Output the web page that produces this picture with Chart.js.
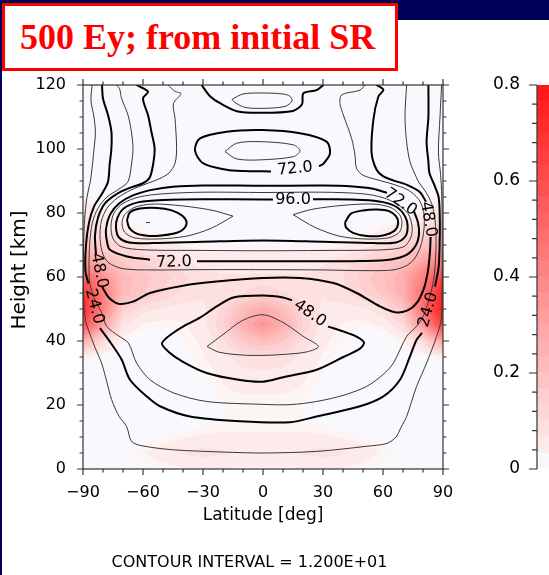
<!DOCTYPE html>
<html>
<head>
<meta charset="utf-8">
<script src="https://cdn.jsdelivr.net/npm/chart.js@4.4.0/dist/chart.umd.min.js"></script>
<style>
html, body { margin: 0; padding: 0; }
body { width: 549px; height: 575px; overflow: hidden; position: relative; background: #fff; font-family: "DejaVu Sans", sans-serif; }
#navyTop { position: absolute; left: 0; top: 0; width: 549px; height: 20px; background: #000058; }
#navyLeft { position: absolute; left: 0; top: 0; width: 2px; height: 575px; background: #000058; }
#main { position: absolute; left: 0; top: 0; }
#cbar { position: absolute; left: 470px; top: 0; }
#title { position: absolute; left: 2px; top: 3px; width: 396px; height: 68px; box-sizing: border-box; border: 3px solid #f00; background: #fff;
  color: #f00; font: bold 36px "Liberation Serif", serif; line-height: 62px; padding-left: 15px; white-space: nowrap; }
#ci { position: absolute; left: 0; top: 552px; width: 499px; text-align: center; font-size: 16px; line-height: 20px; color: #000; }
</style>
</head>
<body>
<div id="navyTop"></div>
<div id="navyLeft"></div>
<canvas id="main" width="549" height="575"></canvas>
<canvas id="cbar" width="100" height="575"></canvas>
<div id="title">500 Ey; from initial SR</div>
<div id="ci">CONTOUR INTERVAL = 1.200E+01</div>
<script>
// ---- shaded field (0 - 0.8), rows from 120 km down to 0 km ----
var heatLat = [-90,-80,-70,-60,-50,-40,-30,-20,-10,0,10,20,30,40,50,60,70,80,90];
var heatHeight = [120,115,110,105,100,95,90,85,80,75,70,65,60,55,50,45,40,35,30,25,20,15,10,5,0];
var heatValues = [
  [0,0,0,0,0,0,0,0,0,0,0,0,0,0,0,0,0,0,0],
  [0,0,0,0,0,0,0,0,0,0,0,0,0,0,0,0,0,0,0],
  [0,0,0,0,0,0,0,0,0,0,0,0,0,0,0,0,0,0,0],
  [0,0,0,0,0,0,0,0,0,0,0,0,0,0,0,0,0,0,0],
  [0,0,0,0,0,0,0,0,0,0,0,0,0,0,0,0,0,0,0],
  [0,0,0,0,0,0,0,0,0,0,0,0,0,0,0,0,0,0,0],
  [0,0,0,0,0,0,0,0,0,0,0,0,0,0,0,0,0,0,0],
  [0.03,0.01,0,0,0,0,0,0,0,0,0,0,0,0,0,0,0,0.01,0.03],
  [0.06,0.03,0.01,0,0,0,0,0,0,0,0,0,0,0,0,0,0.01,0.04,0.08],
  [0.12,0.07,0.04,0.02,0.01,0,0,0,0,0,0,0,0,0,0.01,0.03,0.06,0.1,0.16],
  [0.2,0.13,0.09,0.07,0.05,0.03,0.02,0.02,0.02,0.02,0.02,0.02,0.02,0.03,0.05,0.08,0.12,0.18,0.26],
  [0.36,0.23,0.16,0.13,0.1,0.07,0.05,0.05,0.05,0.05,0.05,0.05,0.06,0.08,0.12,0.16,0.2,0.3,0.42],
  [0.55,0.36,0.22,0.18,0.15,0.11,0.08,0.07,0.07,0.07,0.07,0.07,0.08,0.1,0.15,0.2,0.26,0.42,0.62],
  [0.68,0.43,0.22,0.17,0.13,0.09,0.07,0.07,0.1,0.13,0.1,0.07,0.07,0.09,0.13,0.18,0.26,0.48,0.74],
  [0.72,0.42,0.14,0.08,0.06,0.05,0.06,0.11,0.21,0.27,0.21,0.11,0.06,0.05,0.06,0.09,0.18,0.48,0.78],
  [0.6,0.3,0.07,0.03,0.02,0.03,0.05,0.13,0.26,0.35,0.26,0.13,0.05,0.03,0.02,0.04,0.1,0.34,0.66],
  [0.26,0.1,0.02,0,0,0.02,0.04,0.09,0.17,0.21,0.17,0.09,0.04,0.02,0,0,0.03,0.1,0.3],
  [0.03,0.01,0,0,0,0.01,0.03,0.06,0.08,0.09,0.08,0.06,0.03,0.01,0,0,0,0.01,0.03],
  [0,0,0,0,0,0.01,0.02,0.04,0.06,0.06,0.06,0.04,0.02,0.01,0,0,0,0,0],
  [0,0,0,0,0,0,0.01,0.03,0.04,0.04,0.04,0.03,0.01,0,0,0,0,0,0],
  [0,0,0,0,0,0,0,0.02,0.02,0.02,0.02,0.02,0,0,0,0,0,0,0],
  [0,0,0,0,0,0,0.01,0.02,0.02,0.02,0.02,0.02,0.01,0,0,0,0,0,0],
  [0,0,0,0.01,0.02,0.03,0.04,0.04,0.04,0.04,0.04,0.04,0.04,0.03,0.02,0.01,0,0,0],
  [0,0,0.01,0.03,0.05,0.07,0.08,0.07,0.06,0.06,0.06,0.07,0.08,0.07,0.05,0.03,0.01,0,0],
  [0,0,0,0.01,0.02,0.03,0.03,0.03,0.03,0.03,0.03,0.03,0.03,0.03,0.02,0.01,0,0,0]
];

// colour bar levels
var cbarEdges = [0,0.033,0.067,0.1,0.133,0.167,0.2,0.233,0.267,0.3,0.333,0.367,0.4,0.433,0.467,0.5,0.533,0.567,0.6,0.633,0.667,0.7,0.733,0.767,0.8];

// ticks
var xMajorTicks = [-90,-60,-30,0,30,60,90];
var xMinorTicks = [-80,-70,-50,-40,-20,-10,10,20,40,50,70,80];
var yMajorTicks = [0,20,40,60,80,100,120];
var yMinorTicks = [5,10,15,25,30,35,45,50,55,65,70,75,85,90,95,105,110,115];
var cbarMajorTicks = [0,0.2,0.4,0.6,0.8];
var cbarMinorTicks = [0.04,0.08,0.12,0.16,0.24,0.28,0.32,0.36,0.44,0.48,0.52,0.56,0.64,0.68,0.72,0.76];

// ---- contour lines, [latitude, height]; null = gap for a label ----
var c12 = [[-85.5,120],[-86,115],[-84.5,110],[-83.8,105],[-84.5,100],[-85.3,95],[-86.3,90],[-88,85],[-89.2,78],[-89.7,70],[-89.8,60],[-89.6,52],[-88.6,46],[-87.3,43.5],[-84,38],[-80.7,33.1],[-78,27],[-75.7,21.7],[-72,16.5],[-68.2,13.3],[-65.7,8.6],[-60,7.2],[-44.8,6],[-20,5.3],[0,5],[26.8,5.5],[51.8,7.1],[62,8],[66.5,10],[69,13],[71.8,16.4],[76.8,25.8],[81.8,33.1],[86.8,41.4],[89.2,47],[89.5,55],[89.6,65],[89.6,75],[89.4,85],[88.8,92],[87.7,99],[88.5,110],[89.3,120]];
var c24 = [[-80.5,120],[-80,115.8],[-77.5,110.6],[-75.8,105.4],[-75.8,100.2],[-76.7,95],[-77.5,89.8],[-80.5,86],[-84.5,82],[-87,77],[-88.5,70],[-88.8,62],[-87.3,58],null,[-81.5,44],[-76,39.3],[-70.7,34.2],[-66.5,27.9],[-58.2,22.7],[-51.5,19.6],[-36.5,16.4],[-11.5,14.9],[13.5,14.6],[26.8,16.4],[48.5,19.6],[60.2,22.7],[68.5,27.9],[73.5,35.2],[76.8,40.4],[79.5,42.5],null,[86,57],[87.8,63],[88.3,70],[88.4,78],[87.8,85],[85.5,89],[83.2,92.5],[82.7,96],[81.8,102.3],[82.7,110],[82.7,120]];
var c36 = [[-73.3,120],[-71.7,118.8],[-70.8,116],[-67.5,110.6],[-65.8,105.4],[-65,100.2],[-65.8,95],[-67.5,89.8],[-72,87.5],[-78,85],[-82.5,81.5],[-85.3,77],[-86.6,71],[-87,64],[-86.6,58],[-84.5,53.5],[-80.8,49],[-78.2,44.6],[-72,41.5],[-67.3,39.4],[-63.2,33.1],[-56.5,27.9],[-44.8,23.8],[-28.2,21.1],[0,20.2],[13.5,20.1],[26.8,21.1],[40,23],[51.8,25.8],[60,29.5],[65.2,33.1],[71.8,41.4],[76.8,44.6],[80.3,48],[83,53],[85.3,59],[86.3,66],[86.5,73],[85.8,79],[84.3,83],[81.5,86.5],[78,89.5],[76.8,91],[73.5,96],[71.8,102.3],[71,110],[71.8,120]];
var c48 = [[-63.3,120],[-57.5,117.9],[-60,115.8],[-57.5,110.6],[-55.8,105.4],[-54.2,100.2],[-55,95],[-56.7,91],[-60,89.3],[-66,88],[-73,86],[-79,83],[-82.5,78.5],[-84,73],[-83.5,67],null,[-80.5,57],[-77,53.5],[-72,51.6],[-65,52.3],[-56.5,55],[-40,57.3],[-23.2,58.6],[0,59.7],[18.5,59.7],[35.2,58.1],[46.8,55],[58.5,50.8],[66,49],[72,49.5],[77,52],[80.5,56.5],[82.5,62],[83.5,68],[83.8,72.5],null,[81.5,83.5],[78.5,86.5],[72,88.8],[65,90.2],[60,91.5],[56.8,93.5],[54.3,98.8],[55.2,109.2],[57.7,116.4],[60.2,118.5],[56.8,120]];
var c60 = [[-47.5,120],[-44,118],[-41,117.3],[-44.8,114.2],[-44,109.6],[-43.2,100.2],[-44,95.5],[-47,92.5],[-51.5,90.8],[-58,89.2],[-66,87.2],[-73,84.6],[-78,81.5],[-80.8,77.5],[-81.5,73],[-80.5,68],[-77.5,64.6],[-70,62.6],[-55,62.2],[-30,62.3],[0,62.3],[30,62.2],[50,62],[66,62.3],[74,64.5],[78.5,69],[80.5,75],[80.3,80.5],[77.8,84.3],[72.5,87.2],[65,89],[57,90.4],[50,91.8],[46.8,93.9],[46,98.1],[44.3,103.3],[40.2,110.6],[38.5,114.2],[39.3,116.9],[48.5,118.4],[51,120]];
var c72 = [[62,86.3],[55,87.6],[45,88.3],[30,88.6],[0,88.5],[-30,88.6],[-45,88.2],[-55,87.3],[-65,85.5],[-72,83],[-76.5,79.5],[-78.5,75],[-78,71],[-76.5,68.5],[-68,66.4],[-56.5,65.4],null,[-33,64.9],[0,64.9],[30,64.9],[50,65],[64,65.5],[72,67],[76.5,70],[78,73.5],[77.5,77],[75.5,80.5]];
var c84 = [[0,86.4],[-30,86.5],[-50,86],[-62,85],[-70,83],[-74.5,80],[-76,76],[-75,72],[-71,69.5],[-60,68.5],[-30,68.3],[0,68.2],[30,68.3],[60,68.5],[70.5,69.5],[74,72.5],[74.5,76],[72.5,79.8],[67,82.8],[60,84.8],[50,86],[30,86.5],[0,86.4]];
var c96 = [[5,84.2],[0,84.2],[-30,84.3],[-50,84.1],[-62,83.4],[-69.5,81.5],[-72.8,78.5],[-73.5,75.5],[-72.2,72.5],[-67,70.8],[-55,70.6],[-30,71],[0,71.4],[30,71],[55,70.6],[66.5,70.8],[71.3,72.8],[72.3,76],[71,79],[67,81.8],[60,83.4],[50,84.1],[30,84.3],[25,84.3]];
var loopWest = [[-15,79],[-25,80.8],[-40,82.2],[-55,82.8],[-64,81.8],[-69,79.6],[-70.5,77],[-69.2,74],[-64,72.2],[-52,71.9],[-38,72.8],[-26,75.2],[-15,79]];
var loopEast = [[15,79.5],[25,81.2],[40,82.4],[55,82.8],[63.5,81.8],[68.2,79.6],[69.5,77],[68.2,74],[62.5,72.2],[50,71.9],[38,72.8],[26,75.5],[15,79.5]];
var ovalWest = [[-68,77.8],[-66.5,80.2],[-61.5,81.4],[-53,81.6],[-46,80.9],[-40.5,79.2],[-38.2,76.9],[-40.5,74.6],[-45,73.5],[-52,72.9],[-58,72.9],[-64,73.8],[-67,75.5],[-68,77.8]];
var ovalEast = [[41,77],[44,79.8],[50,80.8],[57,81.1],[63,80.6],[66.5,79],[67.6,76.8],[65.8,74.5],[60,73],[52,72.8],[45,73.8],[41.5,75.5],[41,77]];
var dotWest = [[-58.5,77],[-56.5,77]];
var mound48 = [[32.5,44.5],[40,43],[47,41.3],[50.5,39.5],[48.5,37.6],[40.2,35],[26.8,31],[10.2,28.7],[0,27.3],[-11.5,27.8],[-28.2,30],[-40,33.5],[-47,36.5],[-50.5,39.3],[-45,42.5],[-39.8,44.6],[-31.5,47.3],[-23.2,50.8],[-14.8,53.6],[0,54.2],[10,53.6],[14.5,52.7]];
var mound60 = [[-28,38.3],[-20,42],[-10,46.5],[0,48.2],[10,45.8],[20,41.5],[27.7,38.3],[22,36.6],[10,35.8],[0,35.5],[-10,35.6],[-22,36.5],[-28,38.3]];
var oval72 = [[4,93],[-10,93.1],[-18.2,93.5],[-29.8,95.5],[-34,99.5],[-31.5,103.3],[-18.2,105.4],[0,105.9],[18.5,104.9],[31.8,102.3],[33.5,98.6],[30.5,95.6],[28,94.6]];
var oval84 = [[-19,99.2],[-13.2,101.8],[-1.5,102.3],[15.2,101.3],[18.5,99.4],[15.2,97.6],[-1.5,96.6],[-13.2,96.9],[-19,99.2]];
var arch72 = [[-30.7,120],[-26.5,116.5],[-21.5,114.3],[-13,111.8],[-1.5,111.3],[15,111.9],[19.5,114],[20.2,117.4],[26.8,118.4],[30.2,120]];
var topOval84 = [[-15.5,115.5],[-10,117.2],[0,117.5],[10,117.2],[13.5,116.5],[14.5,115],[11,113.3],[0,112.7],[-9,113],[-14,114.5],[-15.5,115.5]];

// contour labels: text, latitude, height, angle
var contourLabels = [
  ['72.0', 16, 93.8, -6],
  ['96.0', 15, 84.2, 0],
  ['72.0', 68.8, 83.4, 35],
  ['48.0', 82.6, 78, 80],
  ['72.0', -44.5, 64.6, -2],
  ['48.0', -82, 62, 79],
  ['24.0', -84.3, 50.8, 75],
  ['24.0', 82.7, 49.8, -74],
  ['48.0', 23.5, 48.6, 35]
];

var THICK = 2, THIN = 1;
var contourLines = [
  [c12, THIN], [c24, THICK], [c36, THIN], [c48, THICK], [c60, THIN],
  [c72, THICK], [c84, THIN], [c96, THICK], [loopWest, THIN], [loopEast, THIN],
  [ovalWest, THICK], [ovalEast, THICK], [dotWest, THIN], [mound48, THICK], [mound60, THIN],
  [oval72, THICK], [oval84, THIN], [arch72, THICK], [topOval84, THIN]
];

// colour for a value of the field
function heatColor(v) {
  if (v < 0.02) return [248, 248, 253];
  var k = Math.floor(v / 0.8 * 24);
  k = Math.max(0, Math.min(23, k));
  var t = k / 23;
  var gb = Math.round(244 - 219 * t);
  return [Math.round(253 + 2 * t), gb, gb];
}

function sampleHeat(lat, h) {
  var dx = heatLat[1] - heatLat[0], dy = heatHeight[0] - heatHeight[1];
  var fi = (lat - heatLat[0]) / dx, fj = (heatHeight[0] - h) / dy;
  fi = Math.max(0, Math.min(heatLat.length - 1.001, fi));
  fj = Math.max(0, Math.min(heatHeight.length - 1.001, fj));
  var i = Math.floor(fi), j = Math.floor(fj), u = fi - i, w = fj - j;
  var r0 = heatValues[j], r1 = heatValues[j + 1];
  return (r0[i] * (1 - u) + r0[i + 1] * u) * (1 - w) + (r1[i] * (1 - u) + r1[i + 1] * u) * w;
}

Chart.defaults.font.family = '"DejaVu Sans", sans-serif';
Chart.defaults.color = '#000';

// shading under the contours
var heatImage = null;
var heatPlugin = {
  id: 'heat',
  beforeDatasetsDraw: function(chart) {
    var a = chart.chartArea, xs = chart.scales.x, ys = chart.scales.y, ctx = chart.ctx;
    if (!heatImage) {
      var w = Math.round(a.right - a.left), h = Math.round(a.bottom - a.top);
      heatImage = document.createElement('canvas');
      heatImage.width = w; heatImage.height = h;
      var octx = heatImage.getContext('2d');
      var img = octx.createImageData(w, h);
      for (var j = 0; j < h; j++) {
        var hv = ys.getValueForPixel(a.top + j + 0.5);
        for (var i = 0; i < w; i++) {
          var c = heatColor(sampleHeat(xs.getValueForPixel(a.left + i + 0.5), hv));
          var p = (j * w + i) * 4;
          img.data[p] = c[0]; img.data[p + 1] = c[1]; img.data[p + 2] = c[2]; img.data[p + 3] = 255;
        }
      }
      octx.putImageData(img, 0, 0);
    }
    ctx.drawImage(heatImage, a.left, a.top);
  }
};

// frame, tick marks on all four sides, contour labels
var framePlugin = {
  id: 'frame',
  afterDatasetsDraw: function(chart) {
    var a = chart.chartArea, xs = chart.scales.x, ys = chart.scales.y, ctx = chart.ctx;
    ctx.save();
    ctx.font = '16px "DejaVu Sans"';
    ctx.fillStyle = '#000';
    ctx.textAlign = 'center';
    ctx.textBaseline = 'middle';
    contourLabels.forEach(function(l) {
      ctx.save();
      ctx.translate(xs.getPixelForValue(l[1]), ys.getPixelForValue(l[2]));
      ctx.rotate(l[3] * Math.PI / 180);
      ctx.fillText(l[0], 0, 0);
      ctx.restore();
    });
    ctx.strokeStyle = '#333';
    ctx.lineWidth = 1.2;
    ctx.strokeRect(a.left, a.top, a.right - a.left, a.bottom - a.top);
    ctx.beginPath();
    function xt(v, len) {
      var p = xs.getPixelForValue(v);
      ctx.moveTo(p, a.bottom); ctx.lineTo(p, a.bottom + len);
      ctx.moveTo(p, a.top); ctx.lineTo(p, a.top - len);
    }
    function yt(v, len) {
      var p = ys.getPixelForValue(v);
      ctx.moveTo(a.left, p); ctx.lineTo(a.left - len, p);
      ctx.moveTo(a.right, p); ctx.lineTo(a.right + len, p);
    }
    xMajorTicks.forEach(function(v) { xt(v, 6); });
    xMinorTicks.forEach(function(v) { xt(v, 3.5); });
    yMajorTicks.forEach(function(v) { yt(v, 6); });
    yMinorTicks.forEach(function(v) { yt(v, 3.5); });
    ctx.stroke();
    ctx.restore();
  }
};

new Chart(document.getElementById('main'), {
  type: 'scatter',
  data: {
    datasets: contourLines.map(function(cl) {
      return {
        data: cl[0].map(function(p, i) {
          return p ? { x: p[0], y: p[1] } : { x: cl[0][i - 1][0], y: null };
        }),
        showLine: true,
        borderColor: cl[1] === THICK ? '#000' : '#3a3a3a',
        borderWidth: cl[1],
        pointRadius: 0,
        tension: 0.3,
        spanGaps: false
      };
    })
  },
  options: {
    responsive: false,
    devicePixelRatio: 1,
    animation: false,
    events: [],
    layout: { padding: { left: 0, right: 106, top: 85, bottom: 49 } },
    plugins: { legend: { display: false }, tooltip: { enabled: false } },
    scales: {
      x: {
        type: 'linear', min: -90, max: 90,
        ticks: { stepSize: 30, padding: 6, font: { size: 16 },
          callback: function(v) { return v < 0 ? '\u2212' + (-v) : '' + v; } },
        grid: { drawOnChartArea: false, drawTicks: true, tickLength: 8, color: 'transparent' },
        border: { display: false },
        title: { display: true, text: 'Latitude [deg]', font: { size: 17 }, padding: 0 },
        afterFit: function(s) { s.height = 57; }
      },
      y: {
        type: 'linear', min: 0, max: 120,
        ticks: { stepSize: 20, padding: 9, font: { size: 16 } },
        grid: { drawOnChartArea: false, drawTicks: true, tickLength: 8, color: 'transparent' },
        border: { display: false },
        // leading spaces nudge the rotated title up a little
        title: { display: true, text: '\u2002\u2009Height [km]', font: { size: 20 }, padding: { top: 8, bottom: 0 } },
        afterFit: function(s) { s.width = 83; }
      }
    }
  },
  plugins: [heatPlugin, framePlugin]
});

// colour bar
var cbarTickPlugin = {
  id: 'cbarTicks',
  afterDatasetsDraw: function(chart) {
    var a = chart.chartArea, ys = chart.scales.y, ctx = chart.ctx;
    ctx.save();
    ctx.strokeStyle = '#333';
    ctx.lineWidth = 1.2;
    ctx.beginPath();
    ctx.moveTo(a.left, a.top); ctx.lineTo(a.left, a.bottom);
    cbarMajorTicks.forEach(function(v) { var p = ys.getPixelForValue(v); ctx.moveTo(a.left, p); ctx.lineTo(a.left - 8, p); });
    cbarMinorTicks.forEach(function(v) { var p = ys.getPixelForValue(v); ctx.moveTo(a.left, p); ctx.lineTo(a.left - 5, p); });
    ctx.stroke();
    ctx.restore();
  }
};

new Chart(document.getElementById('cbar'), {
  type: 'bar',
  data: {
    labels: [''],
    datasets: cbarEdges.slice(0, -1).map(function(lo, i) {
      var c = heatColor((lo + cbarEdges[i + 1]) / 2);
      return {
        data: [[lo, cbarEdges[i + 1]]],
        backgroundColor: 'rgb(' + c.join(',') + ')',
        borderWidth: 0,
        grouped: false,
        barPercentage: 1,
        categoryPercentage: 1
      };
    })
  },
  options: {
    responsive: false,
    devicePixelRatio: 1,
    animation: false,
    events: [],
    layout: { padding: { left: 0, right: 0, top: 85, bottom: 106 } },
    plugins: { legend: { display: false }, tooltip: { enabled: false } },
    scales: {
      x: { display: false },
      y: {
        min: 0, max: 0.8,
        ticks: { stepSize: 0.2, padding: 9, font: { size: 17 },
          callback: function(v) { return v === 0 ? '0' : v.toFixed(1); } },
        grid: { drawOnChartArea: false, drawTicks: true, tickLength: 8, color: 'transparent' },
        border: { display: false },
        afterFit: function(s) { s.width = 67; }
      }
    }
  },
  plugins: [cbarTickPlugin]
});
</script>
</body>
</html>
